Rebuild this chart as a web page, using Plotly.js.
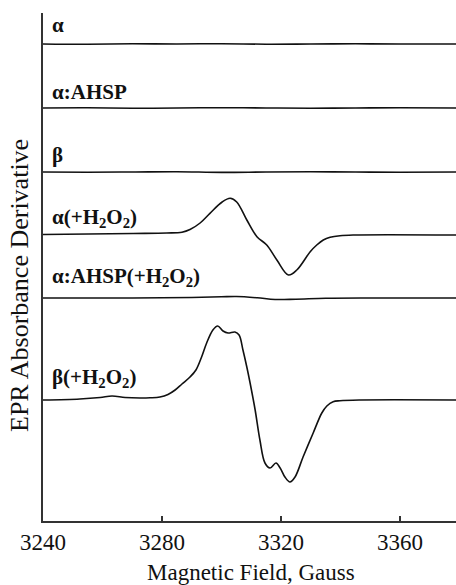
<!DOCTYPE html>
<html>
<head>
<meta charset="utf-8">
<script src="https://cdn.plot.ly/plotly-3.0.1.min.js"></script>
<style>html,body{margin:0;padding:0;background:#fff;}#chart{width:456px;height:585px;}</style>
</head>
<body>
<div id="chart"></div>
<script>
// Spectrum labels (top to bottom)
const labels = ["α", "α:AHSP", "β", "α(+H<sub>2</sub>O<sub>2</sub>)", "α:AHSP(+H<sub>2</sub>O<sub>2</sub>)", "β(+H<sub>2</sub>O<sub>2</sub>)"];
// Vertical offsets of each spectrum baseline (arbitrary units)
const offsets = [477, 413, 349, 286, 223, 121];
// Label vertical positions (arbitrary units)
const labelY = [496, 429, 366, 303, 244, 143];

// Field (Gauss) and derivative signal for each spectrum
const fieldAlpha = [3240, 3255, 3270, 3285, 3300, 3315, 3330, 3345, 3360, 3379];
const sigAlpha   = [0, -0.3, 0.2, 0, 0.3, -0.2, 0, 0.2, 0, 0];

const fieldAHSP = [3240, 3255, 3270, 3285, 3300, 3315, 3330, 3345, 3360, 3379];
const sigAHSP   = [0, 0.2, -0.3, 0, 0.3, 0, -0.2, 0, 0.2, 0];

const fieldBeta = [3240, 3255, 3270, 3285, 3300, 3315, 3330, 3345, 3360, 3379];
const sigBeta   = [0, -0.2, 0, 0.3, -0.4, 0, 0.2, 0, -0.2, 0];

const fieldAlphaH = [3240, 3270.3, 3281.6, 3286.7, 3289.4, 3292.8, 3296.1, 3300.2, 3302.9, 3305.1, 3308.5, 3311.9, 3315.2, 3318.6, 3322.5, 3325.3, 3329.8, 3332.0, 3334.2, 3336.5, 3339.8, 3344.2, 3379];
const sigAlphaH   = [0.5, 1.5, 2, 2.8, 5.5, 12, 21.7, 33, 36.7, 33, 15, -1.7, -10, -25, -40, -35, -16.7, -10, -5, -2.3, -0.7, 0, 0];

const fieldAHSPH = [3240, 3270, 3290, 3300, 3305, 3312, 3318, 3325, 3335, 3350, 3379];
const sigAHSPH   = [0, 0, 0.5, 1.2, 1.5, 0.2, -1.5, -1.2, -0.3, 0, 0];

const fieldBetaH = [3240, 3252.4, 3259.2, 3263.2, 3267.6, 3272.6, 3276.0, 3279.3, 3282.0, 3284.4, 3286.7, 3289.4, 3291.4, 3293.3, 3295.0, 3297.1, 3298.7, 3300.5, 3302.2, 3304.5, 3305.9, 3307.2, 3308.5, 3309.6, 3311.3, 3312.9, 3314.6, 3316.3, 3318.3, 3319.7, 3321.3, 3323.0, 3324.7, 3327.4, 3330.8, 3333.7, 3335.4, 3337.5, 3339.8, 3346.6, 3379];
const sigBetaH   = [0, 1, 2.5, 4, 2.5, 2, 2.2, 3, 5.5, 10, 16, 23, 30, 43, 57, 70, 74, 69, 67, 68, 65, 50, 33, 17, -10, -40, -63, -68, -63, -68, -77, -82, -77, -57, -33, -13, -6, -1.7, -0.7, 0, 0];

const fields = [fieldAlpha, fieldAHSP, fieldBeta, fieldAlphaH, fieldAHSPH, fieldBetaH];
const signals = [sigAlpha, sigAHSP, sigBeta, sigAlphaH, sigAHSPH, sigBetaH];

const xTicks = [3240, 3280, 3320, 3360];
const SERIF = 'Liberation Serif';

const traces = fields.map((f, i) => ({
  type: 'scatter', mode: 'lines',
  x: f,
  y: signals[i].map(v => v + offsets[i]),
  line: {color: '#111', width: 1.6, shape: 'spline', smoothing: 1},
  hoverinfo: 'skip', showlegend: false
}));

const annotations = labels.map((t, i) => ({
  text: '<b>' + t + '</b>',
  xref: 'paper', yref: 'y',
  x: 0.016, y: labelY[i],
  xanchor: 'left', yanchor: 'middle',
  showarrow: false,
  font: {family: SERIF, size: 21, color: '#111'}
}));
annotations.push({
  text: 'EPR Absorbance Derivative',
  xref: 'paper', yref: 'paper',
  x: -23 / 413, y: 0.4626,
  xanchor: 'center', yanchor: 'middle',
  textangle: -90, showarrow: false,
  font: {family: SERIF, size: 26, color: '#111'}
});
annotations.push({
  text: 'Magnetic Field, Gauss',
  xref: 'paper', yref: 'paper',
  x: 0.5036, y: -0.102,
  xanchor: 'center', yanchor: 'middle',
  showarrow: false,
  font: {family: SERIF, size: 23, color: '#111'}
});

const layout = {
  width: 456, height: 585,
  margin: {l: 43, r: 0, t: 13, b: 64},
  paper_bgcolor: '#fff', plot_bgcolor: '#fff',
  showlegend: false,
  font: {family: SERIF, color: '#111'},
  xaxis: {
    range: [3240, 3378.8],
    tickvals: xTicks, ticktext: xTicks.map(String),
    ticks: 'inside', ticklen: 5, tickwidth: 1.5, tickcolor: '#333',
    showline: true, linecolor: '#333', linewidth: 1.6,
    showgrid: false, zeroline: false,
    tickfont: {size: 23, family: SERIF, color: '#111'}
  },
  yaxis: {
    range: [0, 508],
    showticklabels: false, ticks: '',
    showline: true, linecolor: '#333', linewidth: 1.6,
    showgrid: false, zeroline: false
  },
  annotations: annotations
};

Plotly.newPlot('chart', traces, layout, {displayModeBar: false, staticPlot: true});
</script>
</body>
</html>
